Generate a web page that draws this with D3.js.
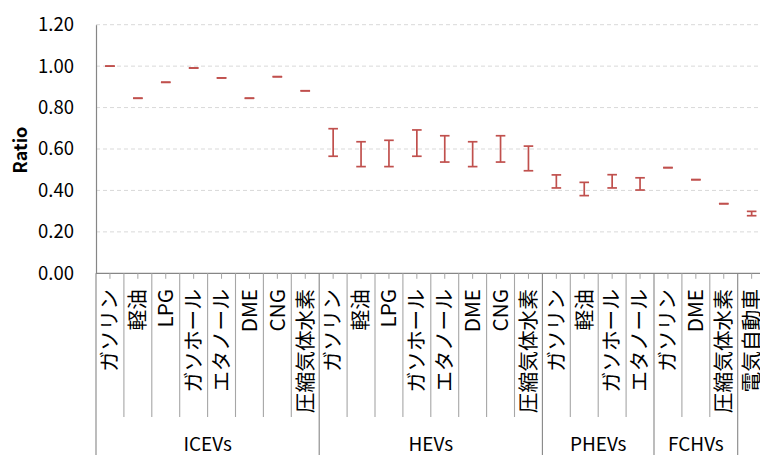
<!DOCTYPE html>
<html>
<head>
<meta charset="utf-8">
<script src="https://cdn.jsdelivr.net/npm/d3@7"></script>
<style>
  body { margin: 0; background: #fff; }
  svg { display: block; font-family: "Noto Sans CJK JP", "Noto Sans", sans-serif; }
</style>
</head>
<body>
<div id="chart"></div>
<script>
// vehicle groups and how many fuel categories each one holds
const groupLabels = ['ICEVs', 'HEVs', 'PHEVs', 'FCHVs', ''];
const groupCounts = [8, 8, 4, 3, 1];

const categories = [
  'ガソリン', '軽油', 'LPG', 'ガソホール', 'エタノール', 'DME', 'CNG', '圧縮気体水素',
  'ガソリン', '軽油', 'LPG', 'ガソホール', 'エタノール', 'DME', 'CNG', '圧縮気体水素',
  'ガソリン', '軽油', 'ガソホール', 'エタノール',
  'ガソリン', 'DME', '圧縮気体水素',
  '電気自動車'];

const highValues = [
  1.00, 0.845, 0.922, 0.991, 0.943, 0.845, 0.949, 0.881,
  0.698, 0.635, 0.642, 0.692, 0.664, 0.635, 0.664, 0.614,
  0.475, 0.439, 0.476, 0.461,
  0.510, 0.452, 0.336,
  0.299];

const lowValues = [
  1.00, 0.845, 0.922, 0.991, 0.943, 0.845, 0.949, 0.881,
  0.565, 0.515, 0.515, 0.565, 0.537, 0.515, 0.537, 0.495,
  0.412, 0.375, 0.412, 0.402,
  0.510, 0.452, 0.336,
  0.278];

const yTicks = [0, 0.2, 0.4, 0.6, 0.8, 1.0, 1.2];

const width = 760;
const height = 455;
const plotLeft = 96;
const bandWidth = 27.9;
const barColor = '#c0504d';
const axisColor = '#868686';

const svg = d3.select('#chart').append('svg')
  .attr('width', width)
  .attr('height', height);

const x = d3.scaleBand()
  .domain(d3.range(categories.length))
  .range([plotLeft, plotLeft + bandWidth * categories.length]);

const y = d3.scaleLinear().domain([0, 1.2]).range([273.3, 24.7]);

// dashed gridlines
svg.append('g').selectAll('line')
  .data(yTicks.filter((t) => t > 0))
  .enter().append('line')
  .attr('x1', plotLeft)
  .attr('x2', width)
  .attr('y1', (d) => y(d))
  .attr('y2', (d) => y(d))
  .attr('stroke', '#d9d9d9')
  .attr('stroke-width', 1)
  .attr('stroke-dasharray', '4,3');

// y axis
const yAxis = d3.axisLeft(y)
  .tickValues(yTicks)
  .tickSize(0)
  .tickSizeOuter(0)
  .tickPadding(22)
  .tickFormat(d3.format('.2f'));

const yg = svg.append('g')
  .attr('transform', 'translate(' + plotLeft + ',0)')
  .call(yAxis);
yg.select('.domain').attr('stroke', axisColor).attr('stroke-width', 1.2);
yg.selectAll('text')
  .attr('fill', '#000')
  .style('font-size', '18.5px')
  .style('font-family', '"Noto Sans CJK JP", sans-serif');

svg.append('text')
  .attr('transform', 'translate(21,150) rotate(-90)')
  .attr('text-anchor', 'middle')
  .attr('dy', '0.35em')
  .style('font-size', '18px')
  .style('font-weight', 'bold')
  .text('Ratio');

// x axis: baseline, category separators, centre ticks
const xAxis = svg.append('g');
const zeroY = y(0);
xAxis.append('line')
  .attr('x1', plotLeft).attr('x2', width)
  .attr('y1', zeroY).attr('y2', zeroY)
  .attr('stroke', axisColor).attr('stroke-width', 1.2);

const groupStarts = [0];
groupCounts.forEach((c, i) => groupStarts.push(groupStarts[i] + c));

const boundaries = d3.range(categories.length + 1);
xAxis.selectAll('line.sep')
  .data(boundaries)
  .enter().append('line')
  .attr('class', 'sep')
  .attr('x1', (d) => x(d) !== undefined ? x(d) : x.range()[1])
  .attr('x2', (d) => x(d) !== undefined ? x(d) : x.range()[1])
  .attr('y1', zeroY)
  .attr('y2', (d) => groupStarts.indexOf(d) >= 0 ? height : 417)
  .attr('stroke', (d) => groupStarts.indexOf(d) >= 0 ? axisColor : '#a6a6a6')
  .attr('stroke-width', 1.1);

xAxis.selectAll('line.tick')
  .data(d3.range(categories.length))
  .enter().append('line')
  .attr('class', 'tick')
  .attr('x1', (d) => x(d) + x.bandwidth() / 2)
  .attr('x2', (d) => x(d) + x.bandwidth() / 2)
  .attr('y1', zeroY)
  .attr('y2', zeroY + 5.5)
  .attr('stroke', '#a6a6a6')
  .attr('stroke-width', 1);

xAxis.selectAll('text.cat')
  .data(categories)
  .enter().append('text')
  .attr('class', 'cat')
  .attr('transform', (d, i) => 'translate(' + (x(i) + x.bandwidth() / 2) + ',289) rotate(-90)')
  .attr('text-anchor', 'end')
  .attr('dy', '0.35em')
  .style('font-size', '20.7px')
  .text((d) => d);

xAxis.selectAll('text.group')
  .data(groupLabels)
  .enter().append('text')
  .attr('class', 'group')
  .attr('x', (d, i) => x(groupStarts[i]) + groupCounts[i] * x.bandwidth() / 2)
  .attr('y', 451)
  .attr('text-anchor', 'middle')
  .style('font-size', '19px')
  .text((d) => d);

// error bars (range of each ratio)
const bars = svg.append('g')
  .attr('stroke', barColor)
  .attr('stroke-width', 1.7);

categories.forEach((c, i) => {
  const cx = x(i) + x.bandwidth() / 2;
  const hi = y(highValues[i]);
  const lo = y(lowValues[i]);
  const cap = 4.8;
  if (highValues[i] !== lowValues[i]) {
    bars.append('line').attr('x1', cx).attr('x2', cx).attr('y1', hi).attr('y2', lo);
  }
  [hi, lo].forEach((yy) => {
    bars.append('line')
      .attr('x1', cx - cap).attr('x2', cx + cap)
      .attr('y1', yy).attr('y2', yy);
  });
});
</script>
</body>
</html>
